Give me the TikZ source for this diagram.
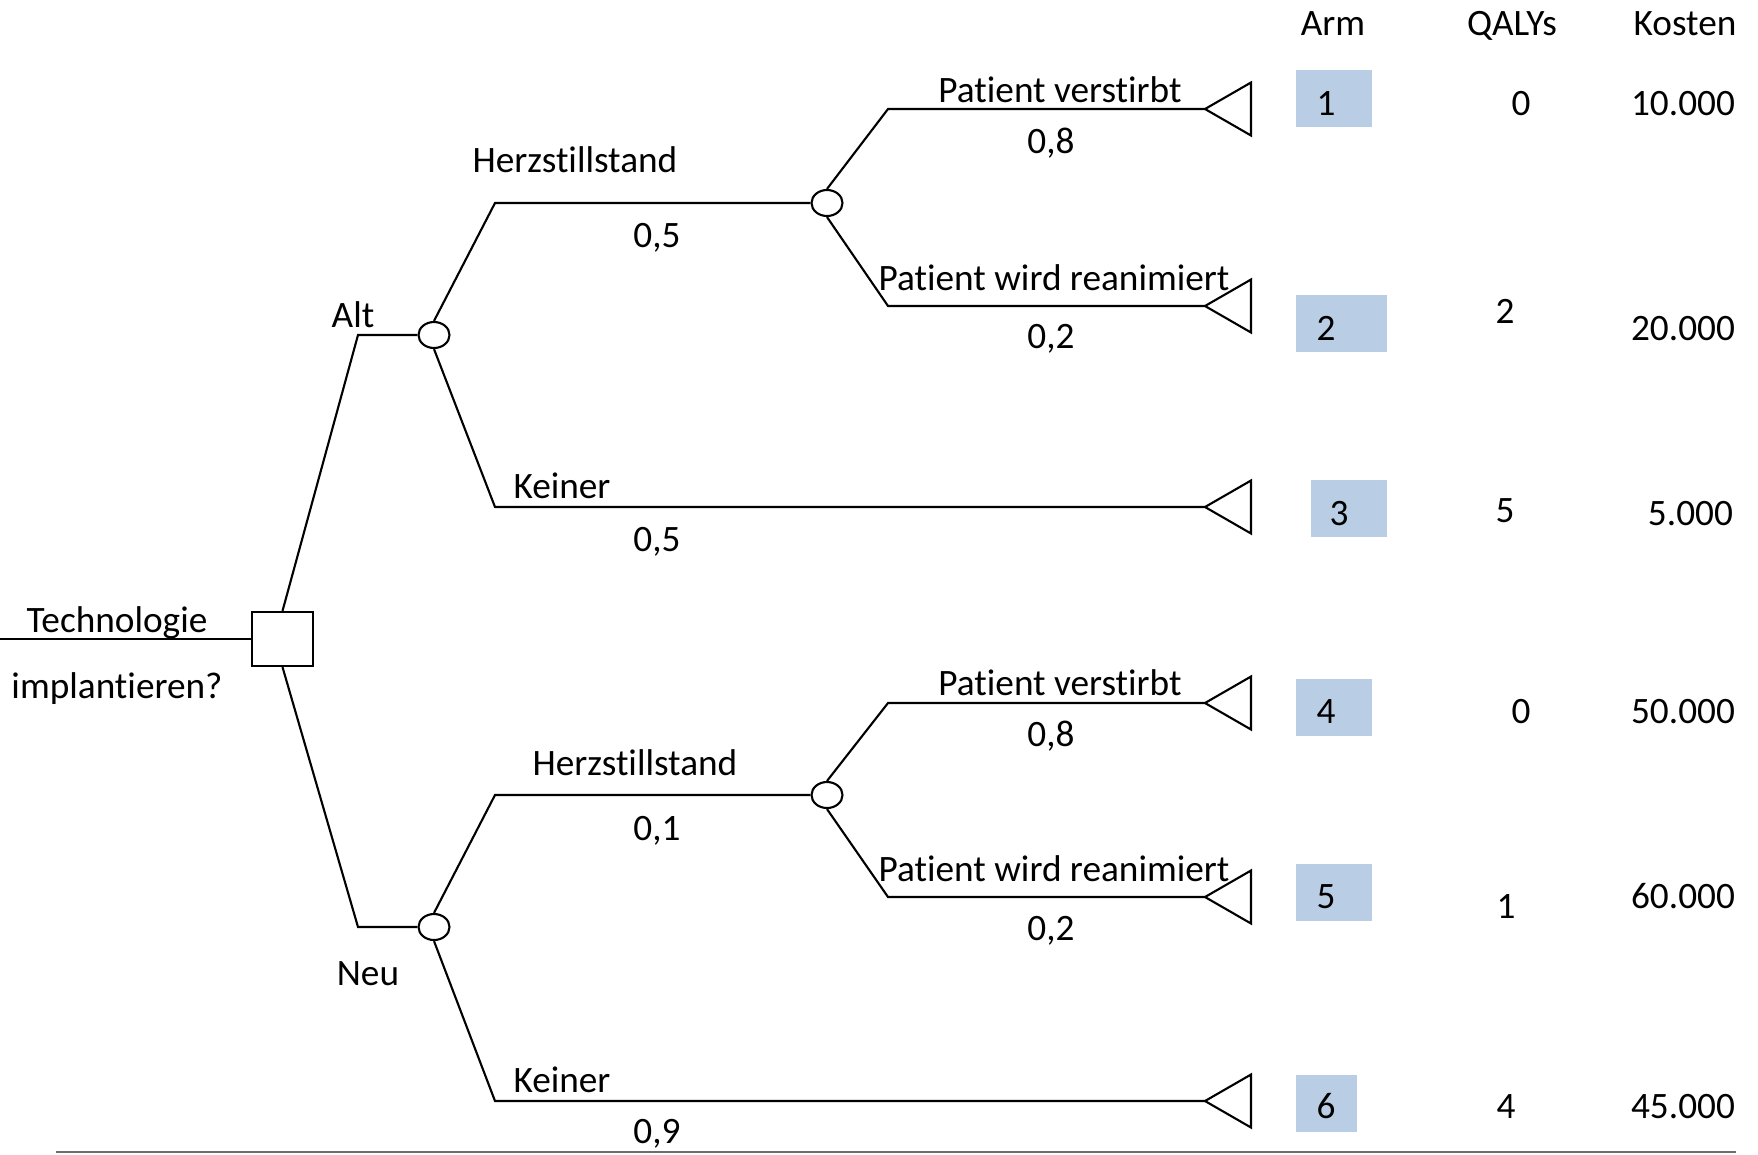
\documentclass[tikz,border=0pt]{standalone}
\usepackage{fontspec}
\setmainfont{Carlito}[Ligatures=NoCommon]
\usetikzlibrary{shapes.geometric}
\definecolor{ArmBlue}{RGB}{185,205,229}
\definecolor{RuleGray}{RGB}{110,110,110}

\begin{document}
\begin{tikzpicture}[x=0.01cm,y=-0.01cm,line width=0.6pt,
    lbl/.style={anchor=base,inner sep=0pt,font=\fontsize{10.6}{12}\selectfont},
    cost/.style={anchor=base east,inner sep=0pt,font=\fontsize{10.6}{12}\selectfont},
    dec/.style={rectangle,draw,fill=white,minimum width=0.61cm,
                minimum height=0.54cm,inner sep=0pt},
    chance/.style={ellipse,draw,fill=white,minimum width=0.31cm,
                   minimum height=0.26cm,inner sep=0pt},
    armbox/.style={fill=ArmBlue,minimum height=0.57cm,inner sep=0pt}
  ]
  \useasboundingbox (0,0) rectangle (1758,1154);
  % decision and chance nodes
  \node[dec] (D) at (282.5,639) {};
  \node[chance] (A) at (434,335) {};
  \node[chance] (N) at (434,927) {};
  \node[chance] (HA) at (827,203) {};
  \node[chance] (HN) at (827,795) {};
  % bends and end points
  \coordinate (in) at (0,639);
  \coordinate (Ab) at (358,335);
  \coordinate (Nb) at (358,927);
  \coordinate (HAb) at (495,203);
  \coordinate (KAb) at (495,507);
  \coordinate (HNb) at (495,795);
  \coordinate (KNb) at (495,1101);
  \coordinate (P1b) at (888,109);
  \coordinate (P2b) at (888,306);
  \coordinate (P4b) at (888,703);
  \coordinate (P5b) at (888,897);
  \coordinate (T1) at (1205,109);
  \coordinate (T2) at (1205,306);
  \coordinate (T3) at (1205,507);
  \coordinate (T4) at (1205,703);
  \coordinate (T5) at (1205,897);
  \coordinate (T6) at (1205,1101);
  % branches
  \draw (in) -- (D);
  \draw (D.north) -- (Ab) -- (A);
  \draw (D.south) -- (Nb) -- (N);
  \draw (A.north) -- (HAb) -- (HA);
  \draw (A.south) -- (KAb) -- (T3);
  \draw (HA.north) -- (P1b) -- (T1);
  \draw (HA.south) -- (P2b) -- (T2);
  \draw (N.north) -- (HNb) -- (HN);
  \draw (N.south) -- (KNb) -- (T6);
  \draw (HN.north) -- (P4b) -- (T4);
  \draw (HN.south) -- (P5b) -- (T5);
  % terminal triangles
  \draw (T1) -- ++(46,-26.5) -- ++(0,53) -- cycle;
  \draw (T2) -- ++(46,-26.5) -- ++(0,53) -- cycle;
  \draw (T3) -- ++(46,-26.5) -- ++(0,53) -- cycle;
  \draw (T4) -- ++(46,-26.5) -- ++(0,53) -- cycle;
  \draw (T5) -- ++(46,-26.5) -- ++(0,53) -- cycle;
  \draw (T6) -- ++(46,-26.5) -- ++(0,53) -- cycle;
  % branch labels
  \node[lbl] (tech) at (117,632) {Technologie};
  \node[lbl] (impl) at (117,698) {implantieren?};
  \node[lbl] (alt) at (353,327) {Alt};
  \node[lbl] (neu) at (368,985) {Neu};
  \node[lbl] (hza) at (575,172) {Herzstillstand};
  \node[lbl] (pa) at (657,247) {0,5};
  \node[lbl] (kea) at (562,498) {Keiner};
  \node[lbl] (pka) at (657,551) {0,5};
  \node[lbl] (hzn) at (635,775) {Herzstillstand};
  \node[lbl] (pn) at (657,840) {0,1};
  \node[lbl] (ken) at (562,1092) {Keiner};
  \node[lbl] (pkn) at (657,1143) {0,9};
  \node[lbl] (v1) at (1060,102) {Patient verstirbt};
  \node[lbl] (pv1) at (1051,153) {0,8};
  \node[lbl] (r2) at (1054,290) {Patient wird reanimiert};
  \node[lbl] (pr2) at (1051,348) {0,2};
  \node[lbl] (v4) at (1060,695) {Patient verstirbt};
  \node[lbl] (pv4) at (1051,746) {0,8};
  \node[lbl] (r5) at (1054,881) {Patient wird reanimiert};
  \node[lbl] (pr5) at (1051,940) {0,2};
  % table
  \node[lbl] (harm) at (1333,35) {Arm};
  \node[lbl] (hqaly) at (1512,35) {QALYs};
  \node[lbl] (hcost) at (1685,35) {Kosten};
  \node[armbox,minimum width=0.76cm] (B1) at (1334,98.5) {};
  \node[armbox,minimum width=0.91cm] (B2) at (1341.5,323.5) {};
  \node[armbox,minimum width=0.76cm] (B3) at (1349,508.5) {};
  \node[armbox,minimum width=0.76cm] (B4) at (1334,707.5) {};
  \node[armbox,minimum width=0.76cm] (B5) at (1334,892.5) {};
  \node[armbox,minimum width=0.61cm] (B6) at (1326.5,1103.5) {};
  \node[lbl] (a1) at (1326,115) {1};
  \node[lbl] (a2) at (1326,340) {2};
  \node[lbl] (a3) at (1339,525) {3};
  \node[lbl] (a4) at (1326,723) {4};
  \node[lbl] (a5) at (1326,908) {5};
  \node[lbl] (a6) at (1326,1118) {6};
  \node[lbl] (q1) at (1521,115) {0};
  \node[lbl] (q2) at (1505,323) {2};
  \node[lbl] (q3) at (1505,522) {5};
  \node[lbl] (q4) at (1521,723) {0};
  \node[lbl] (q5) at (1506,918) {1};
  \node[lbl] (q6) at (1506,1118) {4};
  \node[cost] (c1) at (1736,115) {10.000};
  \node[cost] (c2) at (1736,340) {20.000};
  \node[cost] (c3) at (1734,525) {5.000};
  \node[cost] (c4) at (1736,723) {50.000};
  \node[cost] (c5) at (1736,908) {60.000};
  \node[cost] (c6) at (1736,1118) {45.000};
  \draw[RuleGray,line width=0.8pt] (56,1152) -- (1736,1152);
\end{tikzpicture}
\end{document}
